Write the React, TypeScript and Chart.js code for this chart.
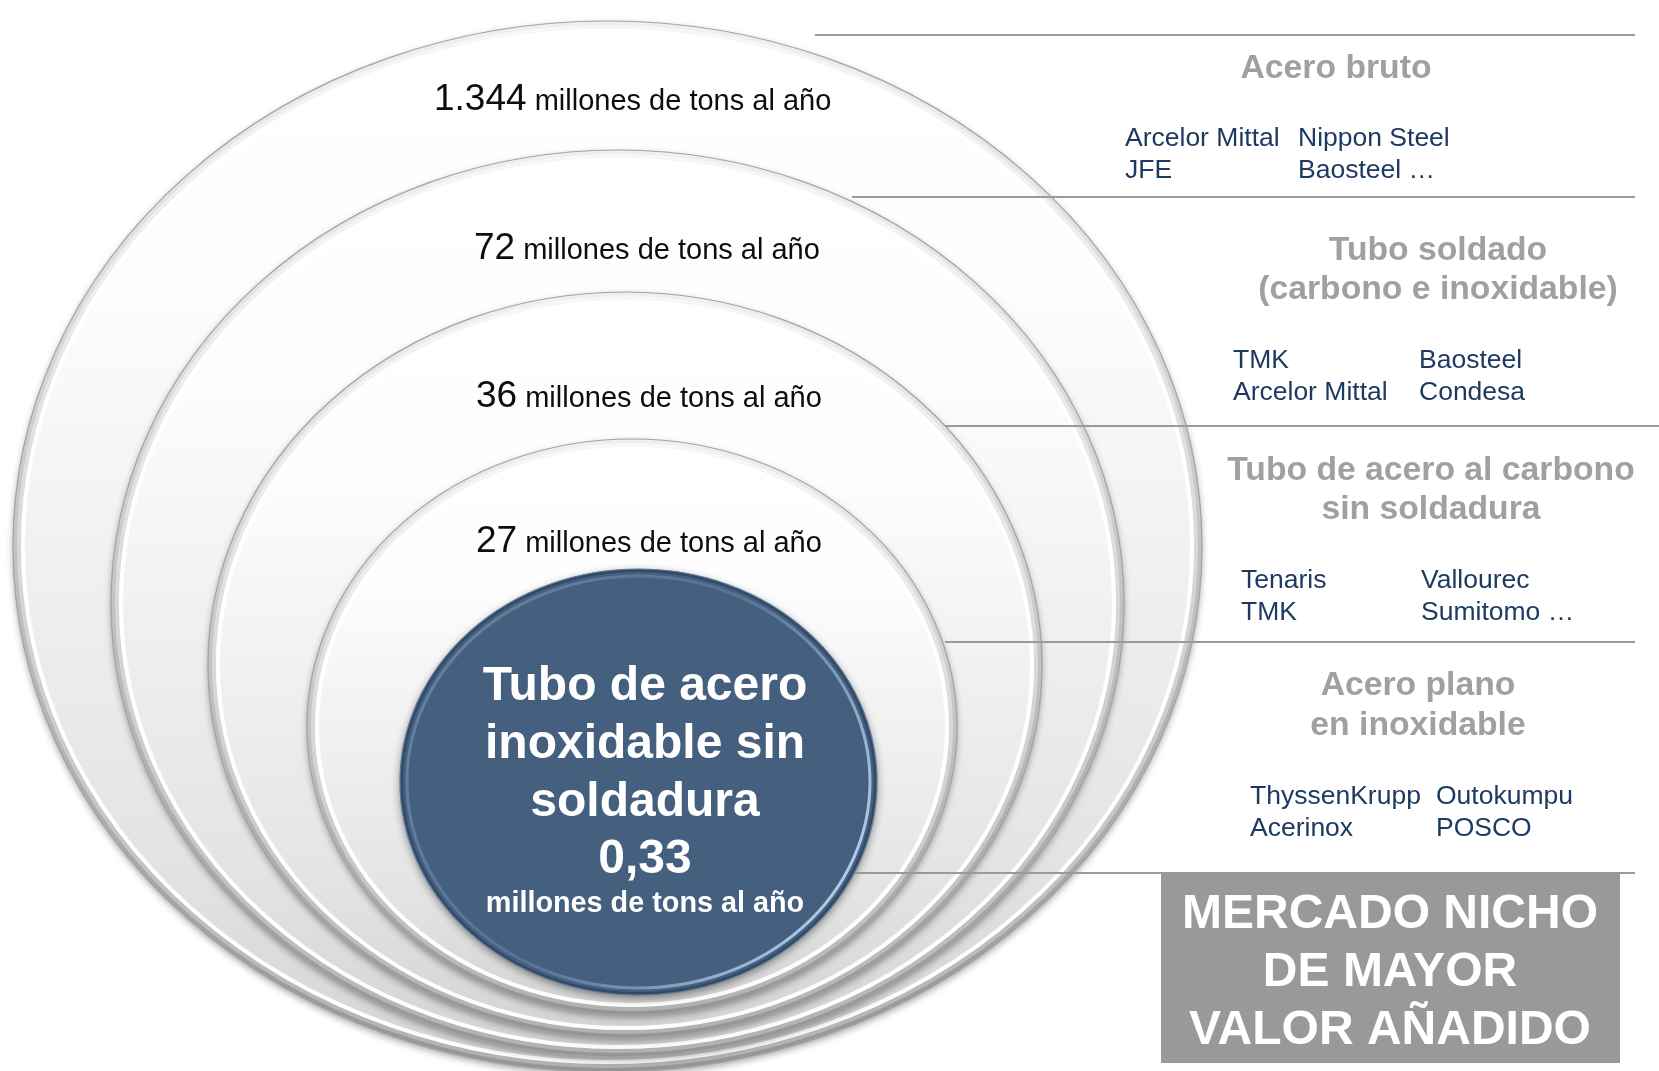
import React, { useEffect, useRef } from "react";
import { Chart, registerables } from "chart.js";

Chart.register(...registerables);

// ---------- data ----------
const volumeLabels = ["1.344", "72", "36", "27"];
const volumeUnit = "millones de tons al año";
const segmentTitles: string[][] = [
  ["Acero bruto"],
  ["Tubo soldado", "(carbono e inoxidable)"],
  ["Tubo de acero al carbono", "sin soldadura"],
  ["Acero plano", "en inoxidable"],
];
const segmentCompanies: string[][][] = [
  [["Arcelor Mittal", "Nippon Steel"], ["JFE", "Baosteel …"]],
  [["TMK", "Baosteel"], ["Arcelor Mittal", "Condesa"]],
  [["Tenaris", "Vallourec"], ["TMK", "Sumitomo …"]],
  [["ThyssenKrupp", "Outokumpu"], ["Acerinox", "POSCO"]],
];
const coreTitle = ["Tubo de acero", "inoxidable sin", "soldadura"];
const coreValue = "0,33";
const nicheLabel = ["MERCADO NICHO", "DE MAYOR", "VALOR AÑADIDO"];

// ---------- layout (diagram units = page pixels) ----------
const W = 1659;
const H = 1071;
const ringLayout = [
  { cx: 607.5, cy: 546.5, rx: 594.5, ry: 525.5 },
  { cx: 617.5, cy: 603.5, rx: 506.5, ry: 453.5 },
  { cx: 625, cy: 665, rx: 417, ry: 373 },
  { cx: 632, cy: 727, rx: 325, ry: 288 },
];
const coreLayout = { cx: 638.5, cy: 782, rx: 238.5, ry: 213 };
const sepY = [35, 197, 426, 642, 873];
const sepX0 = [815, 852, 945, 945, 855];
const sepX1 = [1635, 1635, 1659, 1635, 1635];
const volumePos = [
  { x: 434, y: 110 },
  { x: 474, y: 259 },
  { x: 476, y: 407 },
  { x: 476, y: 552 },
];
const titlePos = [
  { x: 1336, y: [78] },
  { x: 1438, y: [260, 299] },
  { x: 1431, y: [480, 519] },
  { x: 1418, y: [695, 735] },
];
const companyPos = [
  { x: [1125, 1298], y: [146, 178] },
  { x: [1233, 1419], y: [368, 400] },
  { x: [1241, 1421], y: [588, 620] },
  { x: [1250, 1436], y: [804, 836] },
];
const corePos = { x: 645, y: [700, 758, 816, 873], unitY: 912 };
const nicheBox = { x0: 1161, x1: 1620, y0: 874, y1: 1063, cx: 1390, y: [928, 986, 1044] };

const FONT = '"Liberation Sans", Arial, Helvetica, sans-serif';

function ellipsePath(ctx: CanvasRenderingContext2D, cx: number, cy: number, rx: number, ry: number) {
  ctx.beginPath();
  ctx.ellipse(cx, cy, Math.max(rx, 1), Math.max(ry, 1), 0, 0, Math.PI * 2);
}

const diagramPlugin = {
  id: "nestedDiagram",
  beforeDatasetsDraw(chart: any) {
    const { ctx, scales } = chart;
    const xs = scales.x;
    const ys = scales.y;
    const px = (v: number) => xs.getPixelForValue(v);
    const py = (v: number) => ys.getPixelForValue(v);
    const sx = (d: number) => Math.abs(px(d) - px(0));
    const sy = (d: number) => Math.abs(py(d) - py(0));

    ctx.save();
    ctx.fillStyle = "#ffffff";
    ctx.fillRect(0, 0, chart.width, chart.height);
    ctx.restore();

    ringLayout.forEach((r) => {
      const cx = px(r.cx), cy = py(r.cy), rx = sx(r.rx), ry = sy(r.ry);
      // shadow + fill
      ctx.save();
      ctx.shadowColor = "rgba(0,0,0,0.35)";
      ctx.shadowBlur = 7;
      ctx.shadowOffsetY = 3;
      const g = ctx.createLinearGradient(0, cy - ry, 0, cy + ry);
      g.addColorStop(0, "#ffffff");
      g.addColorStop(0.25, "#fdfdfd");
      g.addColorStop(0.5, "#f1f1f1");
      g.addColorStop(0.8, "#e3e3e3");
      g.addColorStop(1, "#d3d3d3");
      ellipsePath(ctx, cx, cy, rx, ry);
      ctx.fillStyle = g;
      ctx.fill();
      ctx.restore();

      // inner bevel shading
      ctx.save();
      ellipsePath(ctx, cx, cy, rx, ry);
      ctx.clip();
      const bg = ctx.createLinearGradient(0, cy - ry, 0, cy + ry);
      bg.addColorStop(0, "rgba(0,0,0,0.03)");
      bg.addColorStop(0.5, "rgba(0,0,0,0.10)");
      bg.addColorStop(1, "rgba(0,0,0,0.16)");
      ctx.strokeStyle = bg;
      ctx.lineWidth = 16;
      ellipsePath(ctx, cx, cy, rx, ry);
      ctx.stroke();
      ctx.lineWidth = 8;
      ellipsePath(ctx, cx, cy, rx, ry);
      ctx.stroke();
      // white highlight band
      ctx.strokeStyle = "rgba(255,255,255,0.95)";
      ctx.lineWidth = 4;
      ellipsePath(ctx, cx, cy, rx - 10, ry - 10);
      ctx.stroke();
      ctx.restore();

      // outer edge
      ctx.save();
      ctx.strokeStyle = "#a3a3a3";
      ctx.lineWidth = 1.2;
      ellipsePath(ctx, cx, cy, rx, ry);
      ctx.stroke();
      ctx.restore();
    });

    // core ellipse
    {
      const r = coreLayout;
      const cx = px(r.cx), cy = py(r.cy), rx = sx(r.rx), ry = sy(r.ry);
      ctx.save();
      ctx.shadowColor = "rgba(0,0,0,0.45)";
      ctx.shadowBlur = 8;
      ctx.shadowOffsetY = 3;
      ellipsePath(ctx, cx, cy, rx, ry);
      ctx.fillStyle = "#455f7e";
      ctx.fill();
      ctx.restore();

      ctx.save();
      ellipsePath(ctx, cx, cy, rx, ry);
      ctx.clip();
      ctx.strokeStyle = "rgba(20,35,55,0.35)";
      ctx.lineWidth = 6;
      ellipsePath(ctx, cx, cy, rx, ry);
      ctx.stroke();
      const hg = ctx.createLinearGradient(cx - rx, cy - ry, cx + rx, cy + ry * 0.3);
      hg.addColorStop(0, "rgba(150,180,210,0.45)");
      hg.addColorStop(0.55, "rgba(140,170,205,0.25)");
      hg.addColorStop(1, "rgba(185,215,245,0.95)");
      ctx.strokeStyle = hg;
      ctx.lineWidth = 3;
      ellipsePath(ctx, cx, cy, rx - 7, ry - 7);
      ctx.stroke();
      ctx.restore();

      ctx.save();
      ctx.strokeStyle = "#5d7a9a";
      ctx.lineWidth = 1.2;
      ellipsePath(ctx, cx, cy, rx, ry);
      ctx.stroke();
      ctx.restore();
    }
  },
  afterDatasetsDraw(chart: any) {
    const { ctx, scales } = chart;
    const px = (v: number) => scales.x.getPixelForValue(v);
    const py = (v: number) => scales.y.getPixelForValue(v);

    ctx.save();
    ctx.textBaseline = "alphabetic";

    // volume labels in the rings
    volumeLabels.forEach((lab, i) => {
      const p = volumePos[i];
      ctx.fillStyle = "#0d0d0d";
      ctx.textAlign = "left";
      ctx.font = `37px ${FONT}`;
      const x0 = px(p.x);
      ctx.fillText(lab, x0, py(p.y));
      const w = ctx.measureText(lab).width;
      ctx.font = `29px ${FONT}`;
      ctx.fillText(" " + volumeUnit, x0 + w, py(p.y));
    });

    // segment titles
    ctx.textAlign = "center";
    ctx.fillStyle = "#a0a0a0";
    ctx.font = `bold 33.7px ${FONT}`;
    segmentTitles.forEach((lines, i) => {
      lines.forEach((t, j) => ctx.fillText(t, px(titlePos[i].x), py(titlePos[i].y[j])));
    });

    // companies
    ctx.textAlign = "left";
    ctx.fillStyle = "#1f3a60";
    ctx.font = `26.5px ${FONT}`;
    segmentCompanies.forEach((rows, i) => {
      rows.forEach((row, r) => {
        row.forEach((name, c) => {
          ctx.fillText(name, px(companyPos[i].x[c]), py(companyPos[i].y[r]));
        });
      });
    });

    // core text
    ctx.textAlign = "center";
    ctx.fillStyle = "#ffffff";
    ctx.font = `bold 48px ${FONT}`;
    coreTitle.forEach((t, j) => ctx.fillText(t, px(corePos.x), py(corePos.y[j])));
    ctx.fillText(coreValue, px(corePos.x), py(corePos.y[3]));
    ctx.font = `bold 28.8px ${FONT}`;
    ctx.fillText(volumeUnit, px(corePos.x), py(corePos.unitY));

    // niche box
    ctx.fillStyle = "#999999";
    const bx0 = px(nicheBox.x0), bx1 = px(nicheBox.x1), by0 = py(nicheBox.y0), by1 = py(nicheBox.y1);
    ctx.fillRect(bx0, by0, bx1 - bx0, by1 - by0);
    ctx.fillStyle = "#ffffff";
    ctx.font = `bold 48px ${FONT}`;
    nicheLabel.forEach((t, j) => ctx.fillText(t, px(nicheBox.cx), py(nicheBox.y[j])));

    ctx.restore();
  },
};

export default function App() {
  const ref = useRef<HTMLCanvasElement | null>(null);
  useEffect(() => {
    document.body.style.margin = "0";
    if (!ref.current) return;
    const datasets = sepY.map((y, i) => ({
      type: "line" as const,
      data: [
        { x: sepX0[i], y },
        { x: sepX1[i], y },
      ],
      borderColor: "#9a9a9a",
      borderWidth: 2,
      pointRadius: 0,
      showLine: true,
      fill: false,
    }));
    const chart = new Chart(ref.current, {
      type: "scatter",
      data: { datasets: datasets as any },
      options: {
        animation: false,
        responsive: false,
        devicePixelRatio: 1,
        layout: { padding: 0 },
        plugins: { legend: { display: false }, tooltip: { enabled: false } },
        events: [],
        scales: {
          x: { type: "linear", min: 0, max: W, display: false },
          y: { type: "linear", min: 0, max: H, reverse: true, display: false },
        },
      },
      plugins: [diagramPlugin],
    });
    return () => chart.destroy();
  }, []);
  return (
    <div style={{ width: W, height: H, overflow: "hidden", background: "#fff" }}>
      <canvas ref={ref} width={W} height={H} style={{ display: "block", width: W, height: H }} />
    </div>
  );
}
